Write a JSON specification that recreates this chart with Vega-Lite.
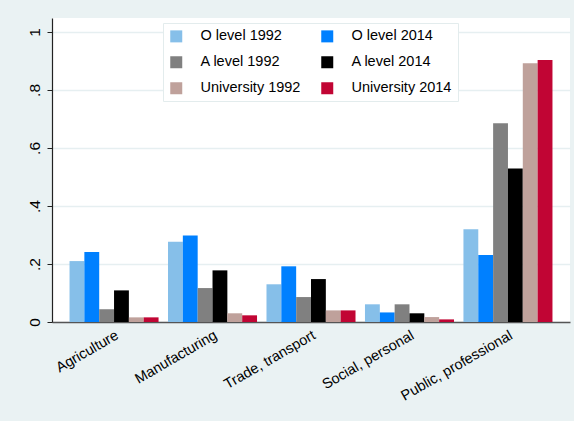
{
  "$schema": "https://vega.github.io/schema/vega-lite/v6.json",
  "autosize": {"type": "none"},
  "width": 518,
  "height": 304,
  "padding": {"left": 52, "top": 18, "right": 4, "bottom": 99},
  "background": "#eaf2f3",
  "config": {
    "font": "Liberation Sans",
    "view": {"fill": "white", "stroke": null},
    "axis": {"labelColor": "#000000", "labelFont": "Liberation Sans"}
  },
  "data": {
    "values": [
      {"sector": "Agriculture", "group": "O level 1992", "share": 0.210},
      {"sector": "Agriculture", "group": "O level 2014", "share": 0.241},
      {"sector": "Agriculture", "group": "A level 1992", "share": 0.044},
      {"sector": "Agriculture", "group": "A level 2014", "share": 0.109},
      {"sector": "Agriculture", "group": "University 1992", "share": 0.016},
      {"sector": "Agriculture", "group": "University 2014", "share": 0.016},
      {"sector": "Manufacturing", "group": "O level 1992", "share": 0.277},
      {"sector": "Manufacturing", "group": "O level 2014", "share": 0.298},
      {"sector": "Manufacturing", "group": "A level 1992", "share": 0.117},
      {"sector": "Manufacturing", "group": "A level 2014", "share": 0.178},
      {"sector": "Manufacturing", "group": "University 1992", "share": 0.030},
      {"sector": "Manufacturing", "group": "University 2014", "share": 0.023},
      {"sector": "Trade, transport", "group": "O level 1992", "share": 0.130},
      {"sector": "Trade, transport", "group": "O level 2014", "share": 0.192},
      {"sector": "Trade, transport", "group": "A level 1992", "share": 0.086},
      {"sector": "Trade, transport", "group": "A level 2014", "share": 0.148},
      {"sector": "Trade, transport", "group": "University 1992", "share": 0.040},
      {"sector": "Trade, transport", "group": "University 2014", "share": 0.040},
      {"sector": "Social, personal", "group": "O level 1992", "share": 0.061},
      {"sector": "Social, personal", "group": "O level 2014", "share": 0.033},
      {"sector": "Social, personal", "group": "A level 1992", "share": 0.061},
      {"sector": "Social, personal", "group": "A level 2014", "share": 0.030},
      {"sector": "Social, personal", "group": "University 1992", "share": 0.017},
      {"sector": "Social, personal", "group": "University 2014", "share": 0.009},
      {"sector": "Public, professional", "group": "O level 1992", "share": 0.320},
      {"sector": "Public, professional", "group": "O level 2014", "share": 0.231},
      {"sector": "Public, professional", "group": "A level 1992", "share": 0.685},
      {"sector": "Public, professional", "group": "A level 2014", "share": 0.529},
      {"sector": "Public, professional", "group": "University 1992", "share": 0.892},
      {"sector": "Public, professional", "group": "University 2014", "share": 0.903}
    ]
  },
  "mark": {"type": "bar"},
  "encoding": {
    "x": {
      "field": "sector",
      "type": "nominal",
      "sort": null,
      "scale": {"paddingInner": 0.096, "paddingOuter": 0.178},
      "axis": {
        "title": null,
        "labelAngle": -30,
        "labelAlign": "right",
        "labelBaseline": "top",
        "labelFontSize": 14.5,
        "labelPadding": 6,
        "ticks": false,
        "domainColor": "#555555",
        "domainWidth": 1.5,
        "grid": false
      }
    },
    "xOffset": {
      "field": "group",
      "type": "nominal",
      "sort": null,
      "scale": {"paddingInner": 0, "paddingOuter": 0}
    },
    "y": {
      "field": "share",
      "type": "quantitative",
      "scale": {"domain": [0, 1.048], "nice": false},
      "axis": {
        "title": null,
        "values": [0, 0.2, 0.4, 0.6, 0.8, 1],
        "labelExpr": "datum.value == 0 ? '0' : datum.value == 1 ? '1' : replace(format(datum.value, '.1f'), '0.', '.')",
        "labelAngle": -90,
        "labelAlign": "center",
        "labelBaseline": "bottom",
        "labelFontSize": 15.5,
        "labelPadding": 5,
        "tickSize": 5,
        "tickColor": "#222222",
        "domainColor": "#222222",
        "domainWidth": 1.2,
        "grid": true,
        "gridColor": "#e6eff1",
        "gridWidth": 1.5
      }
    },
    "color": {
      "field": "group",
      "type": "nominal",
      "scale": {
        "domain": ["O level 1992", "O level 2014", "A level 1992", "A level 2014", "University 1992", "University 2014"],
        "range": ["#86bfe9", "#0080ff", "#808080", "#000000", "#bfa19b", "#c10534"]
      },
      "legend": {
        "title": null,
        "orient": "none",
        "direction": "horizontal",
        "legendX": 111,
        "legendY": 5,
        "columns": 2,
        "symbolType": "square",
        "symbolSize": 144,
        "symbolStrokeWidth": 0,
        "labelFontSize": 14.5,
        "labelColor": "#000000",
        "labelOffset": 17,
        "columnPadding": 19,
        "rowPadding": 11,
        "padding": 6,
        "fillColor": "white",
        "strokeColor": "#e3eced",
        "gridAlign": "each"
      }
    }
  }
}
